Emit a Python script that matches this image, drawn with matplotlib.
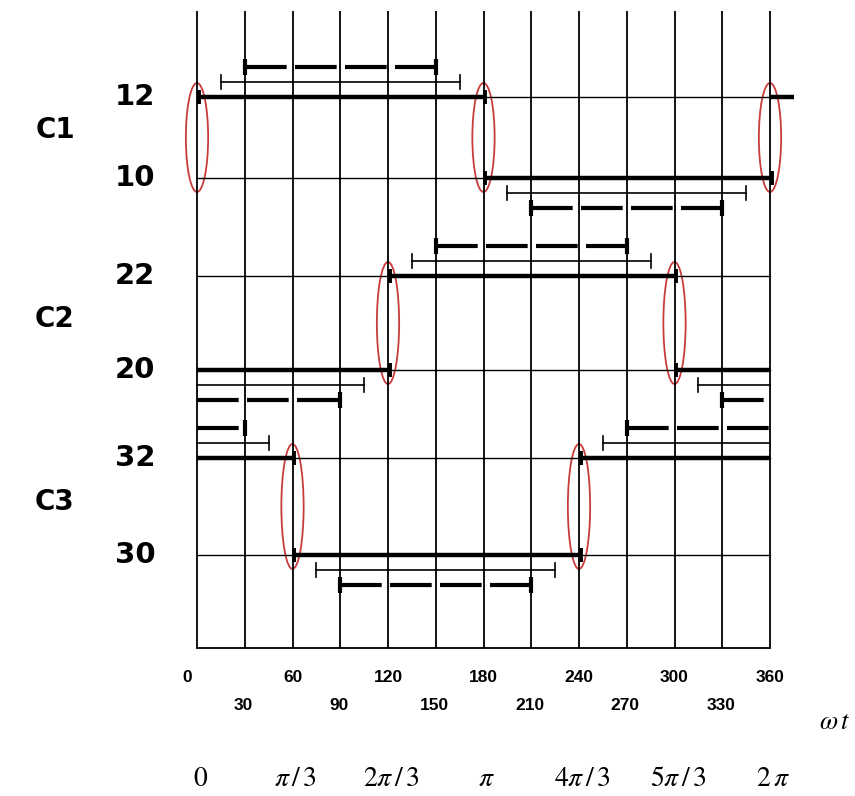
import matplotlib
matplotlib.use("Agg")
import matplotlib.pyplot as plt
from matplotlib.patches import Ellipse

plt.rcParams['mathtext.fontset'] = 'stix'

# ---------------- data ----------------
rows = ["12", "10", "22", "20", "32", "30"]          # switch names
on_start = [0, 180, 120, 300, 240, 60]               # conduction start (deg)
conduction = 180                                     # conduction width (deg)
thin_margin = 15                                     # thin bar shortened by (deg)
dash_margin = 30                                     # dashed bar shortened by (deg)
next_cycle_tail = [15, 0, 0, 0, 0, 0]                # next-cycle stub drawn past 360
groups = ["C1", "C2", "C3"]
grid_deg = list(range(0, 361, 30))
tick_row1 = [0, 60, 120, 180, 240, 300, 360]
tick_row2 = [30, 90, 150, 210, 270, 330]
pi_labels = [r"$0$", r"$\pi\,/\,3$", r"$2\pi\,/\,3$", r"$\pi$",
             r"$4\pi\,/\,3$", r"$5\pi\,/\,3$", r"$2\,\pi$"]
pi_pos = [0, 60, 120, 180, 240, 300, 360]

# ---------------- layout (pixels from top) ----------------
W, H = 855, 796
x0_px, x360_px = 197, 770
s = (x360_px - x0_px) / 360.0
row_y = [97, 178, 276, 370, 458, 555]
row_side = [-1, 1, -1, 1, -1, 1]        # thin/dashed bars above (-1) or below (+1)
group_label_y = [130, 319, 502]
grid_top, grid_bot = 11, 648

fig = plt.figure(figsize=(W / 100, H / 100), dpi=100)
ax = fig.add_axes([0, 0, 1, 1])
ax.set_xlim(-x0_px / s, (W - x0_px) / s)
ax.set_ylim(H, 0)
ax.axis('off')


def px2deg(p):
    return p / s


# grid
for g in grid_deg:
    ax.plot([g, g], [grid_top, grid_bot], color='black', lw=1.3, solid_capstyle='butt')
ax.plot([0, 360], [grid_bot, grid_bot], color='black', lw=1.3)
for y in row_y:
    ax.plot([0, 360], [y, y], color='black', lw=1.0)


def split(a, b):
    if b <= 360:
        return [(a, b)]
    return [(a, 360), (0, b - 360)]


def ends(a, b):
    return [a, b if b <= 360 else b - 360]


for i, name in enumerate(rows):
    y = row_y[i]
    a = on_start[i]
    b = a + conduction
    # thick conduction line
    for (p, q) in split(a, b):
        ax.plot([p, q], [y, y], color='black', lw=3.2, solid_capstyle='butt')
    for e in ends(a, b):
        ax.plot([e + 1, e + 1], [y - 7, y + 7], color='black', lw=2.8, solid_capstyle='butt')
    if next_cycle_tail[i] > 0:
        ax.plot([360, 360 + next_cycle_tail[i]], [y, y], color='black', lw=3.2,
                solid_capstyle='butt', clip_on=False)
    # thin capped bar
    yt = y + row_side[i] * 15
    ta, tb = a + thin_margin, b - thin_margin
    for (p, q) in split(ta, tb):
        ax.plot([p, q], [yt, yt], color='black', lw=1.2)
    for e in ends(ta, tb):
        ax.plot([e, e], [yt - 7, yt + 7], color='black', lw=1.2)
    # dashed bar
    yd = y + row_side[i] * 30
    da, db = a + dash_margin, b - dash_margin
    for (p, q) in split(da, db):
        ax.plot([p, q], [yd, yd], color='black', lw=3.0, dashes=(10, 2),
                dash_capstyle='butt')
    for e in ends(da, db):
        ax.plot([e, e], [yd - 8, yd + 8], color='black', lw=3.0, solid_capstyle='butt')
    # row label
    ax.text(px2deg(135 - x0_px), y, name, ha='center', va='center',
            fontsize=21, fontweight='bold', family='DejaVu Sans')

# switching ellipses
for k in range(3):
    yu, yl = row_y[2 * k], row_y[2 * k + 1]
    angs = {on_start[2 * k] % 360, on_start[2 * k + 1] % 360}
    if 0 in angs:
        angs.add(360)
    for ang in sorted(angs):
        ax.add_patch(Ellipse((ang, (yu + yl) / 2), 14, (yl - yu) + 28,
                             fill=False, edgecolor='#c83c3c', lw=1.3, clip_on=False))
    ax.text(px2deg(55 - x0_px), group_label_y[k], groups[k], ha='center', va='center',
            fontsize=20, fontweight='bold', family='DejaVu Sans')

# degree tick labels
tick_font = ['Liberation Sans Narrow', 'Liberation Sans']
for t in tick_row1:
    xx = t if t != 0 else -6
    ax.text(xx, 677, str(t), ha='center', va='center', fontsize=12.5,
            fontweight='bold', family=tick_font)
for t in tick_row2:
    ax.text(t - 1, 705, str(t), ha='center', va='center', fontsize=12.5,
            fontweight='bold', family=tick_font)

ax.text(px2deg(850 - x0_px), 722, r"$\omega\, t$", ha='right', va='center', fontsize=19)

for lab, p in zip(pi_labels, pi_pos):
    ax.text(p + 2, 778, lab, ha='center', va='center', fontsize=20)

fig.savefig("out.png", dpi=100)
